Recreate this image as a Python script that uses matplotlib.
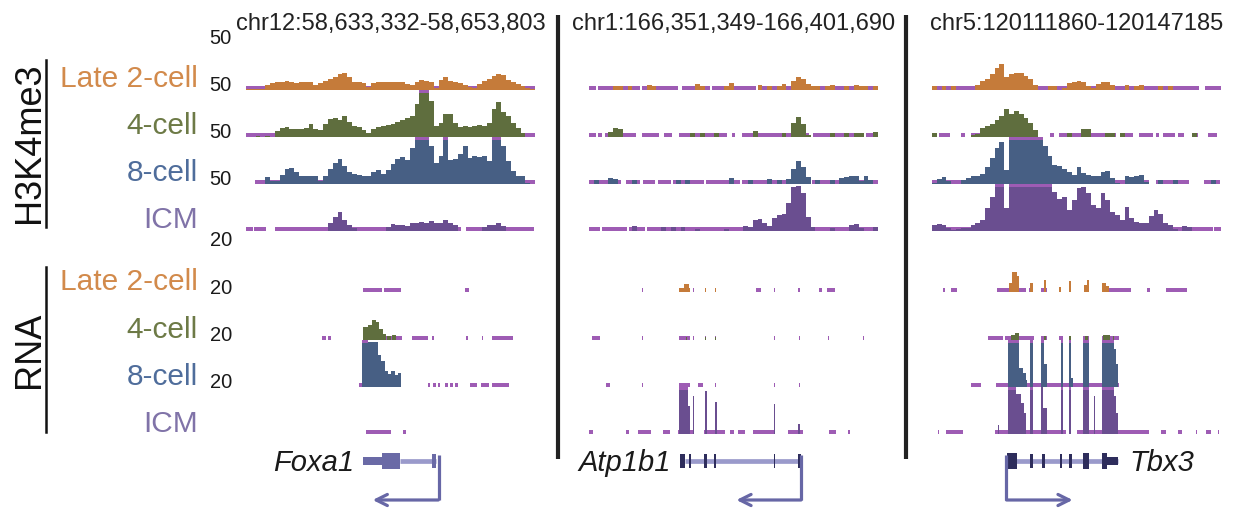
import numpy as np
import matplotlib
matplotlib.use("Agg")
import matplotlib.pyplot as plt

plt.rcParams['font.family'] = ['Liberation Sans', 'DejaVu Sans']

W, H = 1243, 509

stages = ['Late 2-cell', '4-cell', '8-cell', 'ICM']
loci = ['chr12:58,633,332-58,653,803', 'chr1:166,351,349-166,401,690', 'chr5:120111860-120147185']
genes = ['Foxa1', 'Atp1b1', 'Tbx3']
k4_max = 50
rna_max = 20
n_bins = 60

# H3K4me3 coverage, 60 bins across each locus
k4_foxa1_late2 = [1, 1, 1, 1, 5, 7, 8, 9, 10, 9, 7, 8, 8, 8, 5, 7, 10, 12, 14, 17,
                  18, 14, 9, 8, 7, 3, 7, 8, 8, 9, 9, 9, 8, 6, 5, 9, 11, 10, 8, 2,
                  11, 14, 10, 8, 7, 5, 3, 2, 6, 10, 12, 15, 17, 16, 11, 9, 6, 4, 2, 1]
k4_foxa1_4c = [0, 0, 1, 0, 1, 0, 6, 10, 11, 9, 8, 8, 10, 14, 9, 7, 14, 19, 20, 18,
               22, 16, 12, 11, 7, 4, 9, 11, 12, 13, 14, 16, 18, 20, 22, 35, 55, 55, 38, 12,
               15, 25, 24, 15, 11, 12, 11, 12, 13, 12, 15, 30, 37, 27, 22, 15, 10, 4, 0, 0]
k4_foxa1_8c = [0, 0, 0, 0, 7, 3, 3, 10, 16, 17, 13, 9, 9, 9, 9, 3, 9, 16, 22, 27,
               19, 13, 11, 10, 9, 8, 13, 15, 11, 15, 21, 27, 29, 26, 38, 55, 55, 55, 40, 22,
               30, 55, 26, 27, 32, 40, 28, 30, 29, 30, 25, 55, 52, 40, 24, 14, 9, 8, 1, 0]
k4_foxa1_icm = [0, 0, 0, 0, 0, 0, 0, 0, 0, 0, 0, 0, 0, 0, 0, 0, 0, 8, 15, 20,
                12, 6, 3, 0, 0, 0, 0, 0, 0, 4, 7, 6, 6, 5, 8, 9, 10, 9, 11, 9,
                9, 12, 8, 6, 0, 0, 0, 0, 0, 4, 6, 6, 8, 5, 0, 0, 0, 0, 0, 0]

k4_atp_late2 = [0, 0, 0, 0, 0, 4, 4, 0, 4, 0, 0, 0, 5, 4, 0, 0, 0, 0, 0, 0,
                0, 0, 6, 4, 0, 0, 0, 0, 4, 7, 0, 0, 0, 0, 0, 5, 0, 4, 0, 4,
                6, 0, 10, 14, 12, 6, 4, 4, 0, 4, 5, 0, 0, 4, 0, 5, 4, 4, 0, 4]
k4_atp_4c = [0, 0, 0, 0, 5, 10, 8, 0, 0, 0, 0, 0, 0, 0, 0, 0, 0, 0, 0, 0,
             0, 4, 0, 4, 0, 0, 4, 0, 0, 0, 0, 0, 0, 0, 6, 0, 0, 0, 0, 0,
             4, 0, 15, 21, 14, 2, 0, 0, 0, 0, 4, 0, 0, 4, 0, 4, 4, 0, 0, 5]
k4_atp_8c = [0, 4, 0, 0, 6, 5, 0, 0, 0, 4, 0, 0, 0, 0, 0, 0, 0, 0, 4, 0,
             4, 0, 0, 0, 0, 0, 0, 0, 0, 6, 0, 0, 0, 4, 0, 0, 0, 5, 0, 4,
             0, 5, 16, 24, 18, 7, 0, 4, 0, 0, 4, 0, 6, 7, 8, 8, 3, 8, 4, 0]
k4_atp_icm = [0, 0, 0, 0, 0, 0, 0, 0, 0, 5, 0, 0, 0, 0, 0, 4, 0, 4, 0, 4,
              0, 0, 2, 0, 0, 0, 0, 0, 2, 0, 0, 0, 5, 4, 12, 13, 8, 5, 14, 17,
              18, 30, 47, 48, 40, 15, 4, 0, 0, 0, 3, 0, 0, 0, 6, 7, 3, 0, 0, 4]

k4_tbx3_late2 = [4, 0, 4, 0, 4, 0, 0, 0, 0, 5, 10, 12, 17, 23, 28, 14, 17, 18, 18, 15,
                 12, 5, 0, 0, 4, 4, 0, 2, 7, 8, 10, 8, 4, 2, 6, 8, 8, 5, 0, 0,
                 5, 0, 4, 5, 0, 0, 0, 4, 0, 4, 0, 0, 0, 0, 0, 0, 0, 0, 0, 0]
k4_tbx3_4c = [4, 0, 0, 0, 0, 0, 0, 0, 2, 3, 10, 12, 14, 18, 22, 30, 24, 28, 25, 20,
              15, 7, 0, 0, 0, 0, 0, 0, 4, 0, 0, 9, 8, 0, 0, 0, 4, 4, 0, 4,
              0, 0, 0, 0, 0, 0, 0, 0, 0, 0, 0, 0, 0, 0, 4, 0, 0, 0, 0, 0]
k4_tbx3_8c = [1, 5, 7, 3, 0, 0, 4, 6, 8, 9, 11, 18, 28, 38, 45, 15, 55, 55, 55, 55,
              55, 55, 55, 40, 30, 20, 19, 16, 13, 10, 18, 12, 10, 9, 8, 13, 14, 6, 1, 0,
              9, 7, 8, 10, 2, 0, 0, 4, 0, 0, 4, 0, 0, 0, 0, 0, 0, 0, 4, 0]
k4_tbx3_icm = [6, 7, 6, 3, 1, 2, 3, 3, 6, 9, 12, 24, 36, 55, 55, 24, 55, 55, 55, 55,
               55, 55, 55, 55, 55, 42, 34, 36, 22, 33, 46, 47, 40, 28, 24, 40, 33, 20, 17, 12,
               26, 14, 10, 9, 8, 16, 22, 18, 8, 6, 2, 0, 5, 4, 0, 0, 0, 0, 0, 0]

# covered (non-empty) stretches shown as the purple line under each track
bar_k4_foxa1_late2 = [(0, 60)]
bar_k4_foxa1_4c = [(0, 60)]
bar_k4_foxa1_8c = [(1.9, 60)]
bar_k4_foxa1_icm = [(0, 1.4), (1.7, 4.2), (6.0, 44.6), (45.7, 59.8)]
bar_k4_atp_late2 = [(0, 1.4), (1.9, 10.5), (10.9, 18.5), (19.4, 25.1), (25.6, 34.7), (35.1, 60)]
bar_k4_atp_4c = [(0, 1.4), (1.9, 2.8), (3.3, 3.9), (4.6, 9.8), (11.1, 14.5), (15.6, 17.3),
                 (18.7, 28.7), (29.6, 30.4), (31.8, 45.7), (46.6, 56.7), (57.6, 60)]
bar_k4_atp_8c = [(0, 6.7), (7.6, 10.5), (11.3, 13.6), (14.3, 17.1), (17.4, 23.8),
                 (24.2, 31.3), (31.8, 45.8), (46.2, 60)]
bar_k4_atp_icm = [(0, 2.2), (2.7, 7.8), (8.3, 11.6), (12.0, 60)]
bar_k4_tbx3_late2 = [(0, 55.5), (56.6, 60)]
bar_k4_tbx3_4c = [(0, 0.8), (1.5, 3.7), (6.0, 6.9), (8.1, 22.1), (24.4, 25.4), (26.3, 38.2),
                  (39.4, 41.8), (42.9, 45.8), (46.5, 47.2), (48.0, 50.5), (51.1, 52.4),
                  (53.9, 55.2), (57.4, 59.1)]
bar_k4_tbx3_8c = [(0, 45.1), (46.5, 53.4), (56.5, 59.7)]
bar_k4_tbx3_icm = [(0, 52.0), (52.4, 58.3), (58.6, 60)]

# RNA coverage as (start, end, value) blocks
rna_foxa1_late2 = []
rna_foxa1_4c = [(24.3, 25.3, 5.5), (25.3, 26.2, 6.5), (26.2, 27.0, 8.5), (27.0, 27.7, 7.5),
                (27.7, 28.4, 4.5), (28.4, 29.0, 2.5), (29.3, 30.0, 1.5), (30.3, 31.2, 2.0)]
rna_foxa1_8c = [(24.0, 25.4, 20.5), (25.4, 27.4, 19), (27.4, 28.1, 13.5), (28.1, 28.8, 11),
                (28.8, 29.5, 7), (29.5, 30.2, 5.5), (30.2, 30.9, 7), (30.9, 31.6, 5), (31.6, 32.1, 6)]
rna_foxa1_icm = []

rna_atp_late2 = [(18.7, 19.8, 1.5), (19.8, 20.7, 3.2), (20.7, 20.9, 1.5), (24.0, 24.3, 1.5),
                 (26.1, 26.4, 1.5)]
rna_atp_4c = [(20.2, 20.4, 1.2), (24.0, 24.3, 1.2), (26.1, 26.4, 1.2)]
rna_atp_8c = []
rna_atp_icm = [(18.6, 19.5, 20.5), (19.6, 20.6, 20.5), (20.6, 20.9, 12), (21.6, 21.9, 16),
               (24.0, 24.4, 18.5), (26.1, 26.5, 13.5), (38.4, 38.7, 12.8), (43.4, 43.8, 4.3)]

rna_tbx3_late2 = [(16.0, 16.6, 4), (16.6, 17.6, 8.5), (17.6, 18.1, 7), (20.4, 21.0, 3.8),
                  (23.3, 23.6, 5), (26.4, 26.8, 2), (28.5, 28.8, 4.5), (31.5, 32.1, 3),
                  (32.1, 32.6, 5), (35.2, 36.2, 4), (36.2, 36.8, 2.5)]
rna_tbx3_4c = [(16.4, 17.2, 2.0), (17.2, 18.0, 3.0), (23.3, 23.6, 1.5), (28.5, 28.8, 1.5),
               (31.8, 32.4, 1.8), (35.5, 37.0, 2.0), (37.5, 37.8, 1.5)]
rna_tbx3_8c = [(15.7, 18.1, 22), (18.1, 18.8, 8), (18.8, 19.5, 6), (19.5, 19.8, 3),
               (20.4, 21.0, 22), (22.6, 23.2, 22), (23.2, 23.8, 10), (26.7, 27.1, 22),
               (28.5, 28.9, 22), (28.9, 29.2, 4), (31.3, 32.6, 22), (35.2, 37.8, 22),
               (37.8, 38.2, 16), (38.2, 38.6, 10)]
rna_tbx3_icm = [(13.6, 14.0, 4), (15.7, 17.5, 22), (17.5, 18.4, 17), (18.4, 19.0, 13),
                (19.0, 19.5, 9), (20.4, 21.0, 22), (22.6, 23.1, 20), (23.1, 23.8, 11),
                (26.7, 27.1, 22), (28.5, 28.9, 22), (31.3, 32.6, 22), (33.6, 33.9, 16),
                (35.2, 37.8, 22), (37.8, 38.2, 16), (38.2, 38.6, 9)]

bar_rna_foxa1_late2 = [(24.2, 28.3), (28.6, 32.2), (45.5, 46.2)]
bar_rna_foxa1_4c = [(15.7, 16.6), (17.1, 17.6), (24.3, 32.4), (34.4, 37.8), (38.7, 39.1),
                    (45.6, 46.1), (48.9, 49.2), (51.0, 55.5)]
bar_rna_foxa1_8c = [(23.5, 32.2), (37.8, 38.3), (38.9, 39.4), (39.9, 40.2), (41.3, 42.0),
                    (42.3, 43.0), (43.4, 44.0), (46.5, 47.9), (48.7, 50.5), (51.1, 54.6)]
bar_rna_foxa1_icm = [(24.9, 30.1), (32.6, 33.3)]
bar_rna_atp_late2 = [(10.9, 11.2), (18.7, 20.9), (21.6, 21.9), (24.0, 24.3), (26.1, 26.4),
                     (34.7, 35.7), (38.4, 38.7), (43.4, 43.8), (47.7, 48.3), (49.4, 51.0)]
bar_rna_atp_4c = [(0.7, 2.3), (10.9, 11.2), (18.7, 20.9), (21.6, 21.9), (24.0, 24.3),
                  (26.1, 26.4), (38.4, 38.7), (43.5, 43.8), (49.6, 49.9), (56.8, 57.1)]
bar_rna_atp_8c = [(3.5, 4.4), (10.9, 11.2), (18.7, 20.9), (22.6, 23.6), (26.1, 26.4),
                  (38.4, 38.7), (43.5, 43.8)]
bar_rna_atp_icm = [(0, 0.8), (7.7, 8.3), (10.2, 12.9), (15.4, 16.9), (18.5, 21.7), (23.8, 28.2),
                   (29.2, 30.2), (30.9, 32.3), (34.0, 38.7), (41.3, 44.5), (49.9, 51.3), (53.7, 54.1)]
bar_rna_tbx3_late2 = [(2.2, 2.8), (3.9, 5.1), (13.4, 19.5), (20.2, 21.0), (22.6, 23.8),
                      (26.4, 26.8), (28.5, 28.8), (31.5, 32.6), (35.2, 41.3), (44.7, 45.2), (48.5, 53.0)]
bar_rna_tbx3_4c = [(11.6, 14.7), (15.2, 21.2), (22.6, 23.8), (26.4, 27.1), (28.5, 28.8),
                   (31.3, 32.6), (35.2, 38.9)]
bar_rna_tbx3_8c = [(8.1, 10.2), (13.3, 38.9)]
bar_rna_tbx3_icm = [(1.2, 1.5), (2.9, 6.4), (13.1, 27.8), (30.2, 45.1), (47.5, 48.5),
                    (51.0, 52.0), (54.8, 55.1), (56.8, 57.9), (59.3, 59.6)]

# gene models (same 0-60 axis): exons, intron span, TSS and arrow end
foxa1_exons = [(24.2, 28.2, 8), (28.2, 31.9, 16), (38.7, 39.5, 14)]
foxa1_intron = (31.9, 39.5)
foxa1_tss = (40.0, 26.3)
atp_exons = [(18.8, 19.9, 14), (20.8, 21.1, 14), (23.9, 24.4, 14), (26.0, 26.4, 14),
             (38.4, 38.7, 14), (43.4, 44.0, 14)]
atp_intron = (19.9, 44.0)
atp_tss = (44.1, 30.6)
tbx3_exons = [(15.6, 17.7, 16), (20.4, 21.0, 14), (22.8, 23.4, 14), (26.6, 26.9, 14),
              (28.5, 29.0, 14), (31.3, 32.6, 16), (35.2, 36.4, 16), (36.4, 38.7, 8)]
tbx3_intron = (15.4, 38.7)
tbx3_tss = (15.4, 29.2)

fill_colors = ['#c57b3a', '#5f6e3e', '#475f84', '#6a4e90']
label_colors = ['#d28a4b', '#6d7a46', '#4f6d9b', '#8073a8']
bar_color = '#9e5cb4'
gene_colors = ['#6a6aa6', '#2e2d5c', '#2e2d5c']
intron_color = '#9a9acb'
arrow_color = '#6767a6'

k4_tracks = [[k4_foxa1_late2, k4_foxa1_4c, k4_foxa1_8c, k4_foxa1_icm],
             [k4_atp_late2, k4_atp_4c, k4_atp_8c, k4_atp_icm],
             [k4_tbx3_late2, k4_tbx3_4c, k4_tbx3_8c, k4_tbx3_icm]]
k4_bars = [[bar_k4_foxa1_late2, bar_k4_foxa1_4c, bar_k4_foxa1_8c, bar_k4_foxa1_icm],
           [bar_k4_atp_late2, bar_k4_atp_4c, bar_k4_atp_8c, bar_k4_atp_icm],
           [bar_k4_tbx3_late2, bar_k4_tbx3_4c, bar_k4_tbx3_8c, bar_k4_tbx3_icm]]
rna_tracks = [[rna_foxa1_late2, rna_foxa1_4c, rna_foxa1_8c, rna_foxa1_icm],
              [rna_atp_late2, rna_atp_4c, rna_atp_8c, rna_atp_icm],
              [rna_tbx3_late2, rna_tbx3_4c, rna_tbx3_8c, rna_tbx3_icm]]
rna_bars = [[bar_rna_foxa1_late2, bar_rna_foxa1_4c, bar_rna_foxa1_8c, bar_rna_foxa1_icm],
            [bar_rna_atp_late2, bar_rna_atp_4c, bar_rna_atp_8c, bar_rna_atp_icm],
            [bar_rna_tbx3_late2, bar_rna_tbx3_4c, bar_rna_tbx3_8c, bar_rna_tbx3_icm]]
gene_models = [(foxa1_exons, foxa1_intron, foxa1_tss),
               (atp_exons, atp_intron, atp_tss),
               (tbx3_exons, tbx3_intron, tbx3_tss)]

# layout in pixels
panel_x = [246, 589, 932]
panel_w = 289
track_h = 47
k4_base = [90, 137, 184, 231]
rna_base = [292, 340, 387, 434]
bar_px = 3.8


def px_axes(x0, y0, w, h):
    ax = fig.add_axes([x0 / W, 1 - (y0 + h) / H, w / W, h / H])
    ax.set_xlim(0, n_bins)
    ax.axis('off')
    return ax


def draw_bars(ax, bars, ymax):
    bh = ymax * bar_px / track_h
    ax.broken_barh([(a, b - a) for a, b in bars], (0, bh), facecolors=bar_color, zorder=1)


def draw_clipped(ax, spans, ymax):
    bh = ymax * 3.0 / track_h
    if spans:
        ax.broken_barh(spans, (ymax - bh, bh), facecolors=bar_color, zorder=3)


def draw_dense(ax, vals, bars, color, ymax):
    v = np.asarray(vals, dtype=float)
    edges = np.arange(len(v) + 1)
    draw_bars(ax, bars, ymax)
    ax.stairs(np.minimum(v, ymax), edges, fill=True, color=color, lw=0, zorder=2)
    draw_clipped(ax, [(i, 1) for i in np.where(v > ymax)[0]], ymax)
    ax.set_ylim(0, ymax)


def draw_blocks(ax, blocks, bars, color, ymax):
    draw_bars(ax, bars, ymax)
    if blocks:
        s = np.array([b[0] for b in blocks])
        e = np.array([b[1] for b in blocks])
        v = np.array([b[2] for b in blocks])
        ax.bar(s, np.minimum(v, ymax), width=e - s, align='edge', color=color, lw=0, zorder=2)
        draw_clipped(ax, [(a, b - a) for a, b, c in blocks if c > ymax], ymax)
    ax.set_ylim(0, ymax)


fig = plt.figure(figsize=(W / 100, H / 100), dpi=100)

# overlay in pixel coordinates for labels and rules
ov = fig.add_axes([0, 0, 1, 1])
ov.set_xlim(0, W)
ov.set_ylim(H, 0)
ov.axis('off')

for p in range(3):
    for s in range(4):
        ax = px_axes(panel_x[p], k4_base[s] - track_h, panel_w, track_h)
        draw_dense(ax, k4_tracks[p][s], k4_bars[p][s], fill_colors[s], k4_max)
        ax = px_axes(panel_x[p], rna_base[s] - track_h, panel_w, track_h)
        draw_blocks(ax, rna_tracks[p][s], rna_bars[p][s], fill_colors[s], rna_max)

    # gene model row
    gx = px_axes(panel_x[p], 440, panel_w, 69)
    gx.set_ylim(509, 440)
    exons, intron, (tss, tip) = gene_models[p]
    yc = 461
    gx.plot(intron, [yc, yc], color=intron_color, lw=3.4, solid_capstyle='butt', zorder=1)
    for a, b, hgt in exons:
        gx.broken_barh([(a, b - a)], (yc - hgt / 2, hgt), facecolors=gene_colors[p], zorder=2)
    gx.plot([tss, tss], [yc - 6, 500], color=arrow_color, lw=2.3, solid_capstyle='butt', zorder=3)
    gx.annotate('', xy=(tip, 500), xytext=(tss - (0.08 if tip < tss else -0.08), 500),
                arrowprops=dict(arrowstyle='->,head_length=0.8,head_width=0.4',
                                color=arrow_color, lw=2.3, shrinkA=0, shrinkB=0))
    start = min(e[0] for e in exons)
    end = max(e[1] for e in exons)
    if tip < tss:
        gx.annotate(genes[p], xy=(start, yc), xytext=(-6, -1.5), textcoords='offset points',
                    ha='right', va='center', fontsize=21, style='italic', color='#1a1a1a')
    else:
        gx.annotate(genes[p], xy=(end, yc), xytext=(8, -1.5), textcoords='offset points',
                    ha='left', va='center', fontsize=21, style='italic', color='#1a1a1a')

    ov.text(panel_x[p] + panel_w / 2, 30, loci[p], ha='center', va='baseline',
            fontsize=17, color='#222222')

# dividers between loci
for x in [558, 906]:
    ov.plot([x, x], [15, 459], color='#222222', lw=3, solid_capstyle='butt')

# assay labels with brackets
ov.plot([46, 46], [60, 227], color='#111111', lw=1.8)
ov.plot([46, 46], [267, 432], color='#111111', lw=1.8)
ov.text(30, 143, 'H3K4me3', rotation=90, ha='center', va='center', fontsize=26, color='#111111')
ov.text(30, 350, 'RNA', rotation=90, ha='center', va='center', fontsize=26, color='#111111')

for s in range(4):
    ov.text(198, k4_base[s] - 3, stages[s], ha='right', va='baseline', fontsize=21.5,
            color=label_colors[s])
    ov.text(198, rna_base[s] - 2, stages[s], ha='right', va='baseline', fontsize=21.5,
            color=label_colors[s])
    ov.text(232, k4_base[s] - track_h + 1, str(k4_max), ha='right', va='baseline',
            fontsize=14.5, color='#1a1a1a')
    ov.text(232, rna_base[s] - track_h + 1, str(rna_max), ha='right', va='baseline',
            fontsize=14.5, color='#1a1a1a')

fig.savefig('out.png', dpi=100)
